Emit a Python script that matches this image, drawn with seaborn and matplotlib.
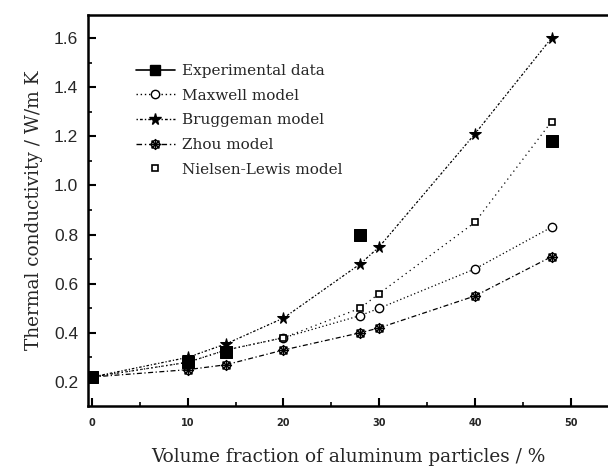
import numpy as np
import pandas as pd
import matplotlib
matplotlib.use("Agg")
import matplotlib.pyplot as plt
from matplotlib.path import Path
from matplotlib.lines import Line2D
import seaborn as sns

# ---- data ----
volume_fraction = [0, 10, 14, 20, 28, 30, 40, 48]
maxwell = [0.22, 0.28, 0.33, 0.38, 0.47, 0.50, 0.66, 0.83]
bruggeman = [0.22, 0.30, 0.355, 0.46, 0.68, 0.75, 1.21, 1.60]
zhou = [0.22, 0.25, 0.27, 0.33, 0.40, 0.42, 0.55, 0.71]
nielsen_lewis = [0.22, 0.28, 0.33, 0.38, 0.50, 0.56, 0.85, 1.26]

exp_fraction = [0, 10, 14, 28, 48]
experimental = [0.22, 0.28, 0.32, 0.80, 1.18]

series_labels = ["Experimental data", "Maxwell model", "Bruggeman model",
                 "Zhou model", "Nielsen-Lewis model"]
x_ticks = [0, 10, 20, 30, 40, 50]
y_ticks = [0.2, 0.4, 0.6, 0.8, 1.0, 1.2, 1.4, 1.6]

sns.set_theme(style="white")
plt.rcParams["font.family"] = ["DejaVu Sans"]

fig = plt.figure(figsize=(6.08, 4.70), dpi=100)
ax = fig.add_axes([88 / 608, 1 - 406 / 470, 1 - 88 / 608, (406 - 15) / 470])

# Zhou marker: circle with asterisk
circ = Path.unit_circle()
spokes = []
codes = []
for ang in np.arange(0, 180, 45):
    a = np.deg2rad(ang)
    spokes += [(-1.35 * np.cos(a), -1.35 * np.sin(a)), (1.35 * np.cos(a), 1.35 * np.sin(a))]
    codes += [Path.MOVETO, Path.LINETO]
zhou_marker = Path.make_compound_path(circ, Path(spokes, codes))

df = pd.DataFrame({"x": volume_fraction, "maxwell": maxwell, "bruggeman": bruggeman,
                   "zhou": zhou, "nl": nielsen_lewis})
dexp = pd.DataFrame({"x": exp_fraction, "y": experimental})

styles = {
    "maxwell": dict(linestyle=(0, (1, 2)), marker="o", markersize=6, mfc="white", mec="black", mew=1.0),
    "bruggeman": dict(linestyle=(0, (1, 1.5, 2, 1.5)), marker="*", markersize=8.5, mfc="black", mec="black"),
    "zhou": dict(linestyle=(0, (4, 2, 1, 2)), marker=zhou_marker, markersize=8, mfc="none", mec="black", mew=1.0),
    "nl": dict(linestyle=(0, (1, 3)), marker="s", markersize=5, mfc="white", mec="black", mew=1.2),
}
for key, st in styles.items():
    sns.lineplot(data=df, x="x", y=key, ax=ax, color="black", lw=0.9, sort=False,
                 legend=False, **st)

sns.scatterplot(data=dexp, x="x", y="y", ax=ax, marker="s", s=80, color="black",
                edgecolor="black", legend=False, zorder=5)

ax.set_xlim(-0.42, 53.9)
ax.set_ylim(0.102, 1.694)
ax.set_xticks(x_ticks)
ax.set_xticks(np.arange(5, 55, 10), minor=True)
ax.set_yticks(y_ticks)
ax.set_yticks(np.arange(0.3, 1.7, 0.2), minor=True)
ax.set_xticklabels([str(t) for t in x_ticks], fontsize=7, fontweight="bold", family="DejaVu Sans")
ax.set_yticklabels([f"{t:.1f}" for t in y_ticks], fontsize=12.5, family="Liberation Sans")
ax.tick_params(axis="both", which="major", direction="in", length=6, width=1.5, color="black",
               bottom=True, left=True, top=False, right=False)
ax.tick_params(axis="x", which="major", pad=9)
ax.tick_params(axis="y", which="major", pad=7)
ax.tick_params(axis="both", which="minor", direction="in", length=3, width=1.2, color="black",
               bottom=True, left=True, top=False, right=False)

for side in ["left", "bottom", "top"]:
    ax.spines[side].set_visible(True)
    ax.spines[side].set_color("black")
    ax.spines[side].set_linewidth(1.8)
ax.spines["right"].set_visible(False)

ax.set_xlabel("Volume fraction of aluminum particles / %", fontsize=13.3,
              family="DejaVu Serif", labelpad=14)
ax.set_ylabel("Thermal conductivity / W/m K", fontsize=13.3, family="DejaVu Serif", labelpad=8)

handles = [
    Line2D([], [], color="black", lw=1.2, linestyle="-", marker="s", markersize=7, mfc="black"),
    Line2D([], [], color="black", lw=1.0, **styles["maxwell"]),
    Line2D([], [], color="black", lw=1.0, **styles["bruggeman"]),
    Line2D([], [], color="black", lw=1.0, **styles["zhou"]),
    Line2D([], [], color="black", lw=0, marker="s", markersize=5, mfc="white", mec="black", mew=1.2),
]
ax.legend(handles, series_labels, loc="upper left", bbox_to_anchor=(0.065, 0.91),
          frameon=False, prop={"family": "DejaVu Serif", "size": 11},
          handlelength=2.6, labelspacing=0.7, handletextpad=0.45)

fig.savefig("out.png", dpi=100)
